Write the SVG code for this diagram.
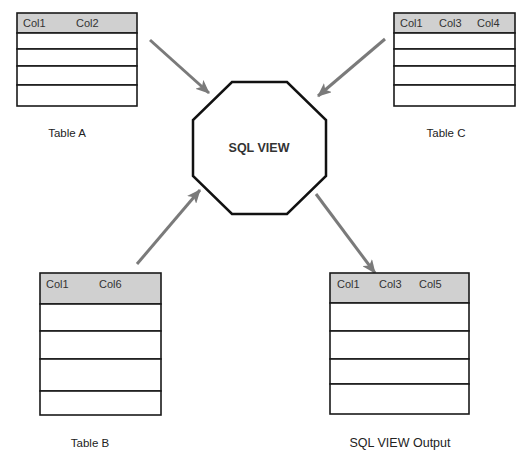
<svg xmlns="http://www.w3.org/2000/svg" width="532" height="458" viewBox="0 0 532 458">
<style>
.row{fill:#ffffff;stroke:#1a1a1a;stroke-width:1.6}
.hdr{fill:#d0d0d0;stroke:#1a1a1a;stroke-width:1.6}
.ht{font-family:"Liberation Sans",Arial,sans-serif;font-size:11px;fill:#333333}
.lbl{font-family:"Liberation Sans",Arial,sans-serif;font-size:11.5px;fill:#222222;text-anchor:middle}
.conn{stroke:#7a7a7a;stroke-width:3;fill:none;marker-end:url(#ah)}
</style>
<defs>
<marker id="ah" markerUnits="userSpaceOnUse" markerWidth="14" markerHeight="12" refX="13" refY="6" orient="auto">
<path d="M0,0 L14,6 L0,12 L3.5,6 Z" fill="#7a7a7a"/>
</marker>
</defs>
<rect width="532" height="458" fill="#ffffff"/>
<g id="connectors">
<line class="conn" x1="150" y1="40" x2="209" y2="93"/>
<line class="conn" x1="385" y1="39" x2="318" y2="96"/>
<line class="conn" x1="137" y1="264" x2="200" y2="190"/>
<line class="conn" x1="316" y1="194" x2="375" y2="273"/>
</g>
<g id="tableA">
<rect class="hdr" x="17" y="13" width="120" height="20"/>
<rect class="row" x="17" y="33" width="120" height="16"/>
<rect class="row" x="17" y="49" width="120" height="17"/>
<rect class="row" x="17" y="66" width="120" height="19"/>
<rect class="row" x="17" y="85" width="120" height="21"/>
<text class="ht" x="23" y="27">Col1</text>
<text class="ht" x="76" y="27">Col2</text>
<text class="lbl" x="67" y="137">Table A</text>
</g>
<g id="tableC">
<rect class="hdr" x="394" y="13" width="121" height="20"/>
<rect class="row" x="394" y="33" width="121" height="16"/>
<rect class="row" x="394" y="49" width="121" height="17"/>
<rect class="row" x="394" y="66" width="121" height="19"/>
<rect class="row" x="394" y="85" width="121" height="21"/>
<text class="ht" x="400" y="27">Col1</text>
<text class="ht" x="439" y="27">Col3</text>
<text class="ht" x="477" y="27">Col4</text>
<text class="lbl" x="446" y="137">Table C</text>
</g>
<g id="sqlview">
<polygon points="232,82 287,82 326,120 326,176 287,214 232,214 193,176 193,120" fill="#ffffff" stroke="#111111" stroke-width="2.5"/>
<text x="259" y="151.5" text-anchor="middle" font-family="Liberation Sans,Arial,sans-serif" font-size="12.5px" font-weight="bold" fill="#333333">SQL VIEW</text>
</g>
<g id="tableB">
<rect class="hdr" x="40" y="273" width="121" height="31"/>
<rect class="row" x="40" y="304" width="121" height="27"/>
<rect class="row" x="40" y="331" width="121" height="28"/>
<rect class="row" x="40" y="359" width="121" height="32"/>
<rect class="row" x="40" y="391" width="121" height="24"/>
<text class="ht" x="46" y="288">Col1</text>
<text class="ht" x="99" y="288">Col6</text>
<text class="lbl" x="90" y="447">Table B</text>
</g>
<g id="output">
<rect class="hdr" x="330" y="273" width="139" height="30"/>
<rect class="row" x="330" y="303" width="139" height="28"/>
<rect class="row" x="330" y="331" width="139" height="28"/>
<rect class="row" x="330" y="359" width="139" height="25"/>
<rect class="row" x="330" y="384" width="139" height="30"/>
<text class="ht" x="337" y="288">Col1</text>
<text class="ht" x="379" y="288">Col3</text>
<text class="ht" x="419" y="288">Col5</text>
<text class="lbl" x="400" y="447" style="font-size:12.5px">SQL VIEW Output</text>
</g>
</svg>
